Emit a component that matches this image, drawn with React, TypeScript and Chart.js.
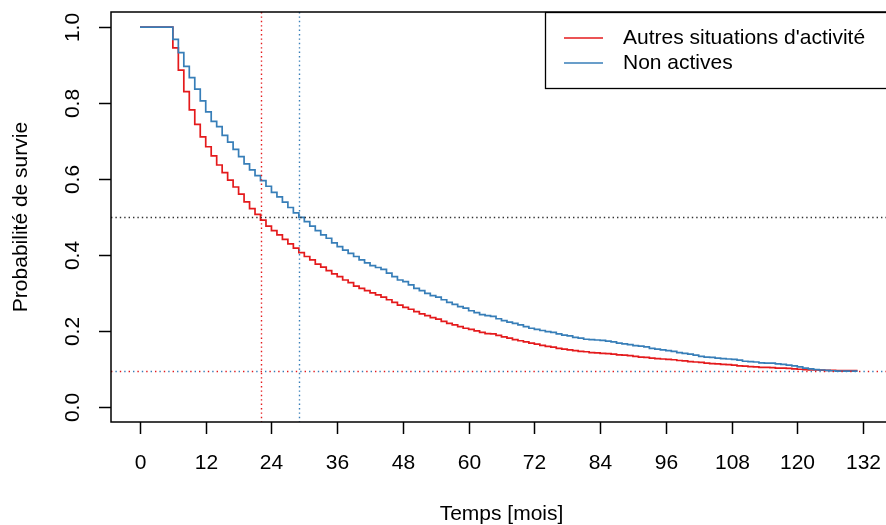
import React, { useEffect, useRef } from "react";
import { Chart, registerables } from "chart.js";

Chart.register(...registerables);

// ---- Data ----
const months = [
  0,
  6, 7, 8, 9, 10,
  11, 12, 13, 14, 15, 16, 17, 18, 19, 20,
  21, 22, 23, 24, 25, 26, 27, 28, 29, 30,
  31, 32, 33, 34, 35, 36, 37, 38, 39, 40,
  41, 42, 43, 44, 45, 46, 47, 48, 49, 50,
  51, 52, 53, 54, 55, 56, 57, 58, 59, 60,
  61, 62, 63, 64, 65, 66, 67, 68, 69, 70,
  71, 72, 73, 74, 75, 76, 77, 78, 79, 80,
  81, 82, 83, 84, 85, 86, 87, 88, 89, 90,
  91, 92, 93, 94, 95, 96, 97, 98, 99, 100,
  101, 102, 103, 104, 105, 106, 107, 108, 109, 110,
  111, 112, 113, 114, 115, 116, 117, 118, 119, 120,
  121, 122, 123, 124, 125, 126, 127, 128, 129, 130,
  131,
];

const autresSituations = [
  1,
  0.9455, 0.887, 0.830, 0.782, 0.744,
  0.711, 0.685, 0.661, 0.637, 0.617, 0.597, 0.579, 0.560, 0.540, 0.522,
  0.507, 0.492, 0.476, 0.464, 0.453, 0.441, 0.429, 0.418, 0.406, 0.396,
  0.387, 0.376, 0.368, 0.359, 0.350, 0.343, 0.334, 0.327, 0.318, 0.312,
  0.306, 0.300, 0.295, 0.289, 0.282, 0.275, 0.268, 0.262, 0.257, 0.251,
  0.245, 0.240, 0.235, 0.231, 0.225, 0.220, 0.216, 0.211, 0.207, 0.204,
  0.200, 0.196, 0.193, 0.192, 0.188, 0.184, 0.181, 0.177, 0.174, 0.171,
  0.168, 0.165, 0.162, 0.159, 0.157, 0.154, 0.152, 0.150, 0.148, 0.146,
  0.145, 0.143, 0.142, 0.141, 0.140, 0.139, 0.137, 0.136, 0.135, 0.133,
  0.131, 0.130, 0.128, 0.127, 0.126, 0.125, 0.124, 0.122, 0.121, 0.119,
  0.118, 0.117, 0.115, 0.114, 0.113, 0.112, 0.111, 0.110, 0.108, 0.107,
  0.106, 0.105, 0.104, 0.104, 0.103, 0.102, 0.102, 0.101, 0.100, 0.099,
  0.098, 0.097, 0.097, 0.0965, 0.096, 0.0958, 0.0955, 0.0955, 0.0955, 0.0955,
  0.0955,
];

const nonActives = [
  1,
  0.968, 0.933, 0.897, 0.867, 0.837,
  0.806, 0.777, 0.752, 0.738, 0.715, 0.697, 0.678, 0.659, 0.640, 0.624,
  0.609, 0.596, 0.581, 0.565, 0.553, 0.539, 0.525, 0.511, 0.499, 0.488,
  0.476, 0.464, 0.453, 0.444, 0.432, 0.422, 0.413, 0.404, 0.396, 0.387,
  0.379, 0.372, 0.367, 0.362, 0.352, 0.343, 0.334, 0.330, 0.321, 0.312,
  0.306, 0.299, 0.293, 0.289, 0.282, 0.275, 0.270, 0.264, 0.260, 0.253,
  0.248, 0.243, 0.240, 0.238, 0.232, 0.227, 0.223, 0.220, 0.216, 0.211,
  0.207, 0.204, 0.201, 0.198, 0.196, 0.192, 0.189, 0.187, 0.183, 0.181,
  0.178, 0.177, 0.176, 0.175, 0.173, 0.171, 0.168, 0.166, 0.164, 0.161,
  0.160, 0.158, 0.154, 0.152, 0.150, 0.148, 0.146, 0.143, 0.141, 0.139,
  0.136, 0.133, 0.131, 0.130, 0.128, 0.127, 0.126, 0.125, 0.123, 0.120,
  0.119, 0.118, 0.116, 0.115, 0.115, 0.113, 0.112, 0.110, 0.108, 0.105,
  0.102, 0.100, 0.098, 0.097, 0.096, 0.095, 0.094, 0.094, 0.094, 0.094,
  0.094,
];

const seriesNames = ["Autres situations d'activité", "Non actives"];
const xTicks = [0, 12, 24, 36, 48, 60, 72, 84, 96, 108, 120, 132];
const yTicks = [0, 0.2, 0.4, 0.6, 0.8, 1.0];
const yTickLabels = ["0.0", "0.2", "0.4", "0.6", "0.8", "1.0"];
const xTitle = "Temps [mois]";
const yTitle = "Probabilité de survie";

const medianAutres = 22;
const medianNonActives = 29;
const halfLevel = 0.5;
const floorAutres = 0.0955;
const floorNonActives = 0.094;

// ---- Styles ----
const RED = "#E41A1C";
const BLUE = "#377EB8";
const FONT = '21px "Liberation Sans", Arial, Helvetica, sans-serif';

const rPlotPlugin = {
  id: "rPlot",
  afterDatasetsDraw(chart: any) {
    const { ctx, chartArea: a, scales } = chart;
    const x = scales.x;
    const y = scales.y;
    ctx.save();
    ctx.beginPath();
    ctx.rect(a.left, a.top, a.right - a.left, a.bottom - a.top);
    ctx.clip();
    ctx.lineWidth = 1.4;
    const hline = (v: number, color: string, dash: number[], offset: number) => {
      const py = Math.round(y.getPixelForValue(v)) + 0.5;
      ctx.strokeStyle = color;
      ctx.setLineDash(dash);
      ctx.lineDashOffset = offset;
      ctx.beginPath();
      ctx.moveTo(a.left, py);
      ctx.lineTo(a.right, py);
      ctx.stroke();
    };
    const vline = (v: number, color: string) => {
      const px = Math.round(x.getPixelForValue(v)) + 0.5;
      ctx.strokeStyle = color;
      ctx.setLineDash([1.4, 3]);
      ctx.lineDashOffset = 0;
      ctx.beginPath();
      ctx.moveTo(px, a.top);
      ctx.lineTo(px, a.bottom);
      ctx.stroke();
    };
    hline(halfLevel, "#333333", [1.4, 3], 0);
    hline(floorAutres, RED, [1.4, 7.4], 0);
    hline(floorNonActives, BLUE, [1.4, 7.4], 4.4);
    vline(medianAutres, RED);
    vline(medianNonActives, BLUE);
    ctx.restore();
  },
  afterDraw(chart: any) {
    const { ctx, chartArea: a, scales } = chart;
    const x = scales.x;
    const y = scales.y;
    ctx.save();
    ctx.strokeStyle = "#000";
    ctx.fillStyle = "#000";
    ctx.lineWidth = 1.5;
    ctx.setLineDash([]);
    // frame
    ctx.strokeRect(a.left, a.top, a.right - a.left + 6, a.bottom - a.top);
    ctx.font = FONT;
    // x axis ticks + labels
    ctx.textAlign = "center";
    ctx.textBaseline = "middle";
    xTicks.forEach((v) => {
      const px = Math.round(x.getPixelForValue(v)) + 0.5;
      ctx.beginPath();
      ctx.moveTo(px, a.bottom);
      ctx.lineTo(px, a.bottom + 12);
      ctx.stroke();
      ctx.fillText(String(v), px, a.bottom + 41);
    });
    // y axis ticks + rotated labels
    yTicks.forEach((v, i) => {
      const py = Math.round(y.getPixelForValue(v)) + 0.5;
      ctx.beginPath();
      ctx.moveTo(a.left - 12, py);
      ctx.lineTo(a.left, py);
      ctx.stroke();
      ctx.save();
      ctx.translate(a.left - 38, py);
      ctx.rotate(-Math.PI / 2);
      ctx.fillText(yTickLabels[i], 0, 0);
      ctx.restore();
    });
    // axis titles
    ctx.fillText(xTitle, (x.getPixelForValue(0) + x.getPixelForValue(132)) / 2, a.bottom + 92);
    ctx.save();
    ctx.translate(21, (a.top + a.bottom) / 2);
    ctx.rotate(-Math.PI / 2);
    ctx.fillText(yTitle, 0, 0);
    ctx.restore();
    // legend
    ctx.lineWidth = 1.3;
    ctx.strokeRect(545.5, a.top + 0.5, 400, 76);
    const colors = [RED, BLUE];
    seriesNames.forEach((name, i) => {
      const ly = a.top + 26 + i * 25;
      ctx.strokeStyle = colors[i];
      ctx.lineWidth = 1.7;
      ctx.beginPath();
      ctx.moveTo(564, ly);
      ctx.lineTo(603, ly);
      ctx.stroke();
      ctx.textAlign = "left";
      ctx.fillStyle = "#000";
      ctx.fillText(name, 623, ly);
    });
    ctx.restore();
  },
};

export default function App() {
  const ref = useRef<HTMLCanvasElement | null>(null);
  useEffect(() => {
    document.body.style.margin = "0";
    const canvas = ref.current;
    if (!canvas) return;
    const pts = (vals: number[]) => months.map((m, i) => ({ x: m, y: vals[i] }));
    const chart = new Chart(canvas, {
      type: "line",
      data: {
        datasets: [
          {
            label: seriesNames[0],
            data: pts(autresSituations),
            borderColor: RED,
            backgroundColor: RED,
            borderWidth: 1.7,
            stepped: "before",
            pointRadius: 0,
            fill: false,
            order: 1,
          },
          {
            label: seriesNames[1],
            data: pts(nonActives),
            borderColor: BLUE,
            backgroundColor: BLUE,
            borderWidth: 1.7,
            stepped: "before",
            pointRadius: 0,
            fill: false,
            order: 0,
          },
        ],
      },
      options: {
        responsive: false,
        devicePixelRatio: 1,
        animation: false,
        parsing: false as any,
        layout: { padding: { left: 111, top: 12, right: 0, bottom: 103 } },
        scales: {
          x: { type: "linear", min: -29 / 5.4773, max: 746 / 5.4773, display: false },
          y: { type: "linear", min: -0.04, max: 1.04, display: false },
        },
        plugins: {
          legend: { display: false },
          tooltip: { enabled: false },
        },
      },
      plugins: [rPlotPlugin],
    });
    return () => chart.destroy();
  }, []);
  return (
    <canvas
      ref={ref}
      width={886}
      height={525}
      style={{ position: "fixed", left: 0, top: 0, width: 886, height: 525, background: "#fff" }}
    />
  );
}
